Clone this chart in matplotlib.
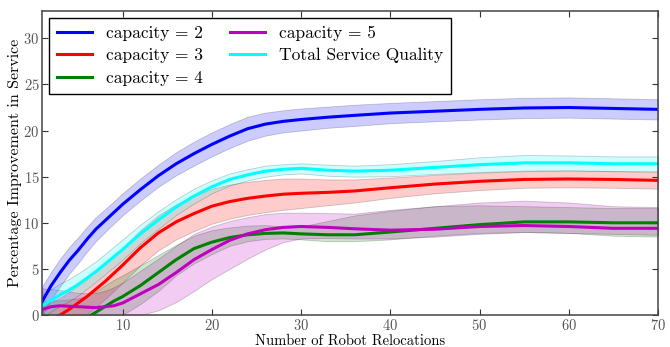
import matplotlib
matplotlib.use("Agg")
import matplotlib.pyplot as plt
from matplotlib.ticker import FixedLocator

plt.rcParams['font.family'] = ['cmr10', 'DejaVu Serif']
plt.rcParams['mathtext.fontset'] = 'cm'
plt.rcParams['axes.formatter.use_mathtext'] = True

# ---- data ----
relocations = [1, 2, 3, 4, 5, 6, 7, 8, 9, 10, 12, 14, 16, 18, 20, 22, 24, 26, 28, 30,
               33, 36, 40, 45, 50, 55, 60, 65, 70]

cap2_mean = [1.5, 3.2, 4.6, 5.9, 7.0, 8.2, 9.3, 10.2, 11.1, 12.0, 13.6, 15.1, 16.4, 17.5, 18.5,
             19.4, 20.2, 20.7, 21.0, 21.2, 21.45, 21.65, 21.9, 22.1, 22.3, 22.45, 22.5, 22.4, 22.3]
cap2_halfwidth = [1.6, 1.5, 1.5, 1.45, 1.4, 1.35, 1.3, 1.25, 1.2, 1.2, 1.2, 1.2, 1.25, 1.3, 1.3,
                  1.3, 1.3, 1.25, 1.2, 1.2, 1.15, 1.15, 1.1, 1.1, 1.1, 1.1, 1.1, 1.1, 1.1]

cap3_mean = [-0.8, -0.4, 0.0, 0.6, 1.3, 2.0, 2.8, 3.6, 4.5, 5.4, 7.3, 8.9, 10.1, 11.0, 11.8,
             12.3, 12.65, 12.9, 13.1, 13.2, 13.3, 13.45, 13.8, 14.2, 14.5, 14.7, 14.75, 14.7, 14.6]
cap3_halfwidth = [1.8, 1.8, 1.85, 1.9, 1.9, 1.9, 1.9, 1.9, 1.9, 1.9, 1.9, 1.9, 1.9, 1.9, 1.9,
                  1.85, 1.8, 1.75, 1.7, 1.6, 1.4, 1.25, 1.1, 1.0, 0.95, 0.9, 0.9, 0.9, 0.9]

cap4_mean = [-2.2, -1.9, -1.6, -1.3, -0.9, -0.3, 0.3, 0.9, 1.5, 2.0, 3.2, 4.6, 6.0, 7.2, 7.9,
             8.4, 8.7, 8.85, 8.9, 8.8, 8.7, 8.7, 9.0, 9.4, 9.8, 10.1, 10.1, 10.0, 10.0]
cap4_upper = [1.5, 1.55, 1.6, 1.7, 1.8, 2.1, 2.6, 3.2, 3.8, 4.3, 5.4, 6.5, 7.6, 8.6, 9.2,
              9.5, 9.7, 9.75, 9.6, 9.6, 10.2, 10.8, 11.3, 11.8, 11.9, 11.8, 11.7, 11.6, 11.6]
cap4_lower = [-5.0, -4.8, -4.5, -4.0, -3.5, -2.8, -2.0, -1.3, -0.6, 0.0, 1.2, 2.6, 4.3, 5.6, 6.6,
              7.5, 8.0, 8.25, 8.3, 8.2, 8.0, 8.0, 8.2, 8.6, 8.9, 9.0, 8.9, 8.6, 8.5]

cap5_mean = [0.6, 0.9, 1.0, 0.95, 0.9, 0.85, 0.8, 0.9, 1.0, 1.3, 2.3, 3.3, 4.6, 6.0, 7.1,
             8.1, 8.8, 9.25, 9.5, 9.6, 9.5, 9.35, 9.2, 9.3, 9.6, 9.7, 9.6, 9.4, 9.4]
cap5_upper = [2.9, 2.8, 2.7, 2.55, 2.4, 2.35, 2.4, 2.6, 3.0, 3.5, 4.8, 6.1, 7.5, 8.8, 9.6,
              10.2, 10.6, 10.95, 11.1, 11.1, 11.05, 11.0, 11.4, 11.8, 12.2, 12.4, 12.2, 11.8, 11.7]
cap5_lower = [-1.5, -1.2, -1.0, -0.9, -0.8, -0.8, -0.8, -0.8, -0.8, -0.8, 0.0, 0.5, 1.4, 2.6, 3.9,
              5.0, 6.1, 7.1, 7.9, 8.3, 8.35, 8.3, 8.3, 8.5, 8.8, 9.0, 8.9, 8.8, 8.7]

total_mean = [1.0, 1.6, 2.2, 2.7, 3.3, 4.0, 4.7, 5.5, 6.3, 7.1, 8.8, 10.3, 11.7, 12.9, 13.9,
              14.7, 15.2, 15.6, 15.8, 15.9, 15.7, 15.6, 15.7, 16.0, 16.3, 16.5, 16.5, 16.4, 16.4]
total_halfwidth = [1.2, 1.2, 1.2, 1.2, 1.2, 1.15, 1.1, 1.1, 1.1, 1.1, 1.0, 0.95, 0.85, 0.8, 0.7,
                   0.65, 0.6, 0.6, 0.55, 0.55, 0.6, 0.6, 0.65, 0.7, 0.8, 0.85, 0.8, 0.8, 0.8]

series_labels = ['capacity = 2', 'capacity = 3', 'capacity = 4', 'capacity = 5', 'Total Service Quality']
series_colors = ['#0000ff', '#ff0000', '#008000', '#bf00bf', '#00ffff']

x_ticks = [10, 20, 30, 40, 50, 60, 70]
y_ticks = [0, 5, 10, 15, 20, 25, 30]

fig = plt.figure(figsize=(6.70, 3.47), dpi=100)
ax = fig.add_axes([0.0631, 0.0922, 0.919, 0.877])

means = [cap2_mean, cap3_mean, cap4_mean, cap5_mean, total_mean]
uppers = [[m + w for m, w in zip(cap2_mean, cap2_halfwidth)],
          [m + w for m, w in zip(cap3_mean, cap3_halfwidth)],
          cap4_upper, cap5_upper,
          [m + w for m, w in zip(total_mean, total_halfwidth)]]
lowers = [[m - w for m, w in zip(cap2_mean, cap2_halfwidth)],
          [m - w for m, w in zip(cap3_mean, cap3_halfwidth)],
          cap4_lower, cap5_lower,
          [m - w for m, w in zip(total_mean, total_halfwidth)]]

for u, l, col in zip(uppers, lowers, series_colors):
    ax.fill_between(relocations, l, u, facecolor=col, alpha=0.2,
                    edgecolor='0.0', linewidth=0.6)
for m, lab, col in zip(means, series_labels, series_colors):
    ax.plot(relocations, m, color=col, lw=2.2, label=lab)

ax.set_xlim(1, 70)
ax.set_ylim(0, 33)
ax.xaxis.set_major_locator(FixedLocator(x_ticks))
ax.yaxis.set_major_locator(FixedLocator(y_ticks))
ax.tick_params(direction='in', top=True, right=True, length=4, width=0.8,
               labelsize=10.5, labelcolor='#555555', color='#333333', pad=2)
for s in ax.spines.values():
    s.set_color('#444444')
    s.set_linewidth(1.1)

ax.set_xlabel('Number of Robot Relocations', fontsize=10.5, labelpad=1)
ax.set_ylabel('Percentage Improvement in Service', fontsize=11.5, labelpad=1)

leg = ax.legend(loc='upper left', ncol=2, fontsize=12.5, frameon=True, fancybox=False,
                edgecolor='black', framealpha=1, handlelength=2.0, columnspacing=1.6,
                borderaxespad=0.4, labelspacing=0.42, borderpad=0.45)
leg.get_frame().set_linewidth(1.0)

fig.savefig('out.png', dpi=100)
